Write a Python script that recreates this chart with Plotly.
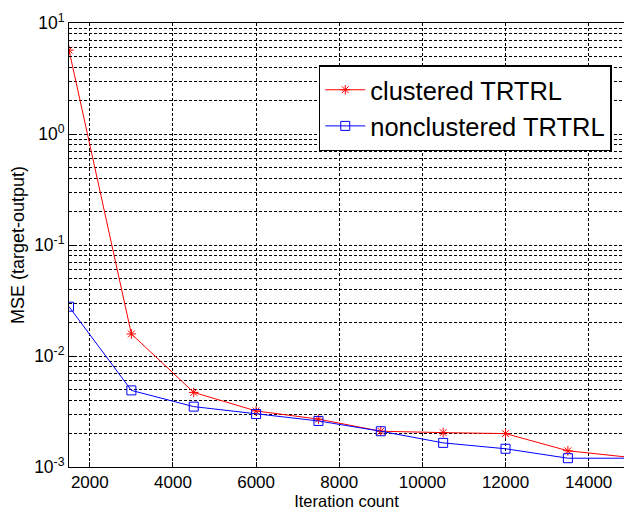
import plotly.graph_objects as go

iterations = [1500, 3000, 4500, 6000, 7500, 9000, 10500, 12000, 13500, 15000]
clustered = [5.7, 0.0158, 0.0047, 0.0032, 0.0027, 0.0021, 0.00204, 0.0020, 0.0014, 0.00122]
nonclustered = [0.0278, 0.0049, 0.0035, 0.0030, 0.0026, 0.0021, 0.00165, 0.00146, 0.0012, 0.0012]

x_ticks = [2000, 4000, 6000, 8000, 10000, 12000, 14000]
x_tick_labels = ["2000", "4000", "6000", "8000", "10000", "12000", "14000"]
y_decades = [-3, -2, -1, 0, 1]

FONT = "Liberation Sans, Arial, sans-serif"

fig = go.Figure()
fig.add_trace(go.Scatter(
    x=iterations, y=clustered, mode="lines+markers", name="clustered TRTRL",
    line=dict(color="red", width=1),
    marker=dict(symbol="asterisk-open", size=8, color="red", line=dict(color="red", width=1)),
    cliponaxis=True,
))
fig.add_trace(go.Scatter(
    x=iterations, y=nonclustered, mode="lines+markers", name="nonclustered TRTRL",
    line=dict(color="blue", width=1),
    marker=dict(symbol="square-open", size=9, color="blue", line=dict(color="blue", width=1)),
    cliponaxis=True,
))

# major ticks at powers of ten, minor grid at 2..9 x 10^k
y_major = [10.0 ** d for d in y_decades]
y_major_text = [f"10<sup>{d}</sup>" for d in y_decades]
y_minor = [m * 10.0 ** d for d in y_decades[:-1] for m in range(2, 10)]

GRID = dict(gridcolor="black", griddash="3px,2px", gridwidth=1)

fig.update_layout(
    template="none",
    width=624, height=510,
    margin=dict(l=69, r=0, t=23, b=43, autoexpand=False),
    paper_bgcolor="white", plot_bgcolor="white",
    font=dict(family=FONT, color="black", size=17),
    showlegend=True,
    legend=dict(
        x=0.450, y=0.905, xanchor="left", yanchor="top",
        bgcolor="white", bordercolor="black", borderwidth=1.5,
        font=dict(size=25.5, family=FONT),
        itemwidth=40, tracegroupgap=0,
    ),
    xaxis=dict(
        range=[1500, 14850], tickvals=x_ticks, ticktext=x_tick_labels,
        showgrid=True, **GRID,
        showline=True, linecolor="black", linewidth=1, mirror=True,
        ticks="inside", ticklen=5, tickcolor="black",
        zeroline=False, automargin=False,
        title=dict(text="Iteration count", font=dict(size=16.5), standoff=5),
        tickfont=dict(size=17),
    ),
    yaxis=dict(
        type="log", range=[-3, 1], tickvals=y_major, ticktext=y_major_text,
        showgrid=True, **GRID,
        minor=dict(tickmode="array", tickvals=y_minor, showgrid=True,
                   ticks="inside", ticklen=3, tickcolor="black", **GRID),
        showline=True, linecolor="black", linewidth=1, mirror=True,
        ticks="inside", ticklen=5, tickcolor="black",
        zeroline=False, automargin=False,
        title=dict(text="MSE (target-output)", font=dict(size=18), standoff=4),
        tickfont=dict(size=17.5),
    ),
)

fig.write_html(
    "out.html",
    config={"displayModeBar": False},
    post_script="document.body.style.margin='0';document.body.style.overflow='hidden';",
)
